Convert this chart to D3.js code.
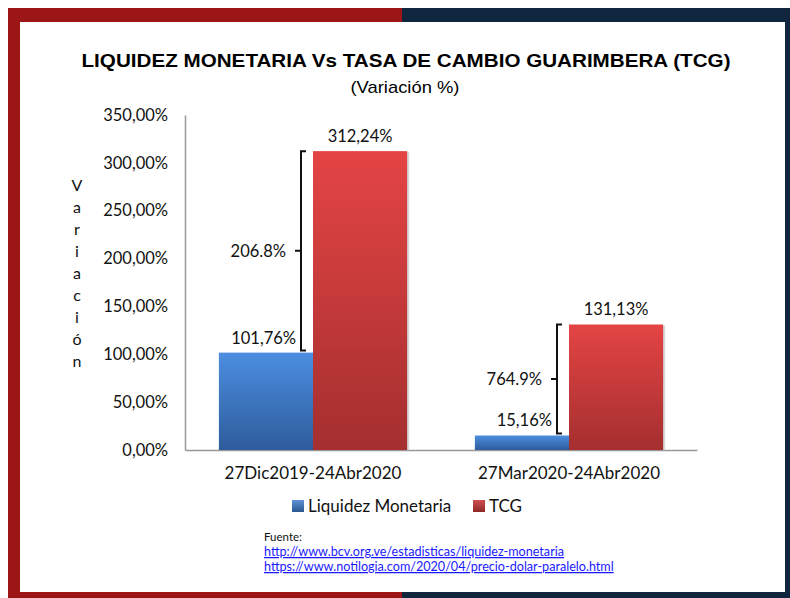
<!DOCTYPE html>
<html>
<head>
<meta charset="utf-8">
<script src="https://cdn.jsdelivr.net/npm/d3@7"></script>
<style>
  html, body { margin: 0; padding: 0; background: #fff; }
  svg { display: block; }
</style>
</head>
<body>
<svg id="chart" width="790" height="598"></svg>
<script>
// data
const categories = ["27Dic2019-24Abr2020", "27Mar2020-24Abr2020"];
const seriesNames = ["Liquidez Monetaria", "TCG"];
const liquidez = [101.76, 15.16];
const tcg = [312.24, 131.13];
const diffLabels = ["206.8%", "764.9%"];
const yTicks = [0, 50, 100, 150, 200, 250, 300, 350];
const sources = [
	"http://www.bcv.org.ve/estadisticas/liquidez-monetaria",
	"https://www.notilogia.com/2020/04/precio-dolar-paralelo.html"
];

const svg = d3.select("#chart");
const W = 790, H = 598;
const font = "Lato, 'Noto Sans', sans-serif";

const es = d3.formatLocale({ decimal: ",", thousands: ".", grouping: [3], currency: ["", "%"] });
const fmt = v => es.format(".2f")(v) + "%";

// frame (red left half, navy right half)
const red = "#9c1616", navy = "#10263e";
svg.append("rect").attr("x", 8).attr("y", 8).attr("width", 394).attr("height", 14).attr("fill", red);
svg.append("rect").attr("x", 402).attr("y", 8).attr("width", 388).attr("height", 14).attr("fill", navy);
svg.append("rect").attr("x", 8).attr("y", 8).attr("width", 12).attr("height", H - 8).attr("fill", red);
svg.append("rect").attr("x", 785).attr("y", 8).attr("width", 5).attr("height", H - 8).attr("fill", navy);
svg.append("rect").attr("x", 8).attr("y", 592).attr("width", 394).attr("height", 6).attr("fill", red);
svg.append("rect").attr("x", 402).attr("y", 592).attr("width", 388).attr("height", 6).attr("fill", navy);

// titles
svg.append("text")
	.attr("x", 406).attr("y", 67)
	.attr("text-anchor", "middle")
	.style("font-family", "'Liberation Sans', Arial, sans-serif")
	.style("font-weight", "bold")
	.style("font-size", "18.5px")
	.attr("textLength", 649)
	.attr("lengthAdjust", "spacingAndGlyphs")
	.text("LIQUIDEZ MONETARIA Vs TASA DE CAMBIO GUARIMBERA (TCG)");

svg.append("text")
	.attr("x", 405).attr("y", 93)
	.attr("text-anchor", "middle")
	.style("font-family", "'Liberation Sans', Arial, sans-serif")
	.style("font-size", "17px")
	.attr("textLength", 109)
	.attr("lengthAdjust", "spacingAndGlyphs")
	.text("(Variación %)");

// scales
const margin = { left: 185, right: 697, top: 115, bottom: 450 };
const x = d3.scaleBand().domain(categories).range([margin.left, margin.right]).paddingInner(0).paddingOuter(0);
const inner = d3.scaleBand().domain(seriesNames).range([0, x.bandwidth()]).paddingInner(0).paddingOuter(0.36);
const y = d3.scaleLinear().domain([0, 350]).range([margin.bottom, margin.top]);

// gradients
const defs = svg.append("defs");
const grads = [
	{ id: "gBlue", top: "#4c8ee0", bottom: "#2d5c9c" },
	{ id: "gRed", top: "#e44444", bottom: "#a52f2f" }
];
grads.forEach(g => {
	const lg = defs.append("linearGradient").attr("id", g.id).attr("x1", 0).attr("y1", 0).attr("x2", 0).attr("y2", 1);
	lg.append("stop").attr("offset", "0%").attr("stop-color", g.top);
	lg.append("stop").attr("offset", "100%").attr("stop-color", g.bottom);
});
const legGrads = [
	{ id: "lBlue", a: "#5d93d6", b: "#2a568f" },
	{ id: "lRed", a: "#d05050", b: "#8e2727" }
];
legGrads.forEach(g => {
	const lg = defs.append("linearGradient").attr("id", g.id).attr("x1", 0).attr("y1", 0).attr("x2", 0).attr("y2", 1);
	lg.append("stop").attr("offset", "0%").attr("stop-color", g.a);
	lg.append("stop").attr("offset", "100%").attr("stop-color", g.b);
});

// y axis
const yAxis = svg.append("g")
	.attr("transform", `translate(${margin.left},0)`)
	.call(d3.axisLeft(y).tickValues(yTicks).tickSize(0).tickPadding(17).tickFormat(fmt));
yAxis.select(".domain").attr("stroke", "#999").attr("stroke-width", 1.5);
yAxis.selectAll("text")
	.style("font-family", font)
	.style("font-size", "16.5px")
	.attr("fill", "#111");

// x axis
const xAxis = svg.append("g")
	.attr("transform", `translate(0,${margin.bottom})`)
	.call(d3.axisBottom(x).tickSize(0).tickPadding(17));
xAxis.select(".domain").attr("stroke", "#999").attr("stroke-width", 1.5);
xAxis.selectAll("text")
	.style("font-family", font)
	.style("font-size", "17px")
	.attr("fill", "#111");

// bars
const rows = categories.map((c, i) => ({ cat: c, values: [liquidez[i], tcg[i]] }));
const groups = svg.selectAll(".grp")
	.data(rows)
	.join("g")
	.attr("class", "grp")
	.attr("transform", d => `translate(${x(d.cat)},0)`);

// shadow behind bars
groups.selectAll(".shadow")
	.data(d => d.values.map((v, j) => ({ v, s: seriesNames[j] })))
	.join("rect")
	.attr("class", "shadow")
	.attr("x", d => inner(d.s) + 2)
	.attr("y", d => y(d.v) + 1)
	.attr("width", inner.bandwidth())
	.attr("height", d => y(0) - y(d.v) - 1)
	.attr("fill", "#d4d4d4");

groups.selectAll(".bar")
	.data(d => d.values.map((v, j) => ({ v, s: seriesNames[j], j })))
	.join("rect")
	.attr("class", "bar")
	.attr("x", d => inner(d.s))
	.attr("y", d => y(d.v))
	.attr("width", inner.bandwidth())
	.attr("height", d => y(0) - y(d.v))
	.attr("fill", d => d.j === 0 ? "url(#gBlue)" : "url(#gRed)");

// value labels
groups.selectAll(".val")
	.data(d => d.values.map((v, j) => ({ v, s: seriesNames[j], j })))
	.join("text")
	.attr("class", "val")
	.attr("x", d => d.j === 0 ? inner(d.s) + inner.bandwidth() - 17 : inner(d.s) + inner.bandwidth() / 2)
	.attr("y", d => y(d.v) - 9)
	.attr("text-anchor", d => d.j === 0 ? "end" : "middle")
	.style("font-family", font)
	.style("font-size", "16.5px")
	.attr("fill", "#111")
	.text(d => fmt(d.v));

// brackets showing the gap
const brW = 5;
groups.each(function (d, i) {
	const g = d3.select(this);
	const bx = inner(seriesNames[1]) - 12;
	const yTop = y(d.values[1]);
	const yBot = y(d.values[0]) - 2;
	const yMid = (yTop + yBot) / 2;
	g.append("path")
		.attr("d", `M${bx + brW},${yTop} L${bx},${yTop} L${bx},${yBot} L${bx + brW},${yBot} M${bx},${yMid} L${bx - 6},${yMid}`)
		.attr("fill", "none")
		.attr("stroke", "#111")
		.attr("stroke-width", 2);
	g.append("text")
		.attr("x", bx - 15)
		.attr("y", yMid + 6)
		.attr("text-anchor", "end")
		.style("font-family", font)
		.style("font-size", "16.5px")
		.attr("fill", "#111")
		.text(diffLabels[i]);
});

// y title, stacked letters
const yTitle = "Variación".split("");
const letterY = d3.scalePoint().domain(d3.range(yTitle.length)).range([191, 367]);
svg.selectAll(".ylet")
	.data(yTitle)
	.join("text")
	.attr("class", "ylet")
	.attr("x", 77)
	.attr("y", (d, i) => letterY(i))
	.attr("text-anchor", "middle")
	.style("font-family", font)
	.style("font-size", "16px")
	.attr("fill", "#111")
	.text(d => d);

// legend
const legend = svg.append("g").attr("transform", "translate(292,500)");
const legItems = legend.selectAll(".leg")
	.data(seriesNames)
	.join("g")
	.attr("class", "leg")
	.attr("transform", (d, i) => `translate(${i === 0 ? 0 : 181},0)`);
legItems.append("rect")
	.attr("width", 12).attr("height", 12)
	.attr("fill", (d, i) => i === 0 ? "url(#lBlue)" : "url(#lRed)");
legItems.append("text")
	.attr("x", 16).attr("y", 12)
	.style("font-family", font)
	.style("font-size", "17px")
	.attr("fill", "#111")
	.text(d => d);

// source
svg.append("text")
	.attr("x", 264).attr("y", 541)
	.style("font-family", font)
	.style("font-size", "11.5px")
	.attr("fill", "#111")
	.text("Fuente:");
svg.selectAll(".src")
	.data(sources)
	.join("text")
	.attr("class", "src")
	.attr("x", 264)
	.attr("y", (d, i) => 556 + i * 15)
	.style("font-family", font)
	.style("font-size", "12.6px")
	.style("text-decoration", "underline")
	.attr("fill", "#1a1aff")
	.text(d => d);
</script>
</body>
</html>
